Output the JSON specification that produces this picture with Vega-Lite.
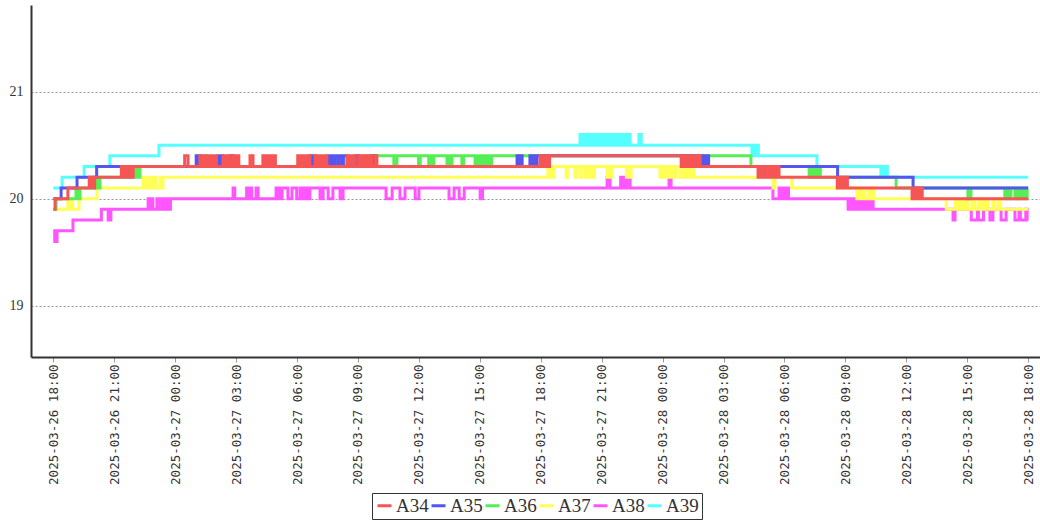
{
  "$schema": "https://vega.github.io/schema/vega-lite/v6.json",
  "width": 1009,
  "height": 352,
  "autosize": {"type": "none"},
  "padding": {"left": 31, "top": 5, "right": 0, "bottom": 165},
  "background": "white",
  "config": {"view": {"stroke": null}},
  "data": {
    "values": [
      {"s": "A39", "t": "2025-03-26T18:00", "v": 20.1},
      {"s": "A39", "t": "2025-03-26T18:26", "v": 20.2},
      {"s": "A39", "t": "2025-03-26T19:31", "v": 20.3},
      {"s": "A39", "t": "2025-03-26T20:47", "v": 20.4},
      {"s": "A39", "t": "2025-03-26T23:12", "v": 20.5},
      {"s": "A39", "t": "2025-03-27T19:56", "v": 20.6},
      {"s": "A39", "t": "2025-03-27T20:03", "v": 20.5},
      {"s": "A39", "t": "2025-03-27T20:08", "v": 20.6},
      {"s": "A39", "t": "2025-03-27T20:15", "v": 20.5},
      {"s": "A39", "t": "2025-03-27T20:20", "v": 20.6},
      {"s": "A39", "t": "2025-03-27T20:27", "v": 20.5},
      {"s": "A39", "t": "2025-03-27T20:31", "v": 20.6},
      {"s": "A39", "t": "2025-03-27T20:38", "v": 20.5},
      {"s": "A39", "t": "2025-03-27T20:43", "v": 20.6},
      {"s": "A39", "t": "2025-03-27T20:50", "v": 20.5},
      {"s": "A39", "t": "2025-03-27T20:54", "v": 20.6},
      {"s": "A39", "t": "2025-03-27T21:01", "v": 20.5},
      {"s": "A39", "t": "2025-03-27T21:05", "v": 20.6},
      {"s": "A39", "t": "2025-03-27T21:12", "v": 20.5},
      {"s": "A39", "t": "2025-03-27T21:16", "v": 20.6},
      {"s": "A39", "t": "2025-03-27T21:24", "v": 20.5},
      {"s": "A39", "t": "2025-03-27T21:28", "v": 20.6},
      {"s": "A39", "t": "2025-03-27T21:35", "v": 20.5},
      {"s": "A39", "t": "2025-03-27T21:40", "v": 20.6},
      {"s": "A39", "t": "2025-03-27T21:48", "v": 20.5},
      {"s": "A39", "t": "2025-03-27T21:52", "v": 20.6},
      {"s": "A39", "t": "2025-03-27T22:00", "v": 20.5},
      {"s": "A39", "t": "2025-03-27T22:06", "v": 20.6},
      {"s": "A39", "t": "2025-03-27T22:14", "v": 20.5},
      {"s": "A39", "t": "2025-03-27T22:18", "v": 20.6},
      {"s": "A39", "t": "2025-03-27T22:24", "v": 20.5},
      {"s": "A39", "t": "2025-03-27T22:50", "v": 20.6},
      {"s": "A39", "t": "2025-03-27T22:57", "v": 20.5},
      {"s": "A39", "t": "2025-03-28T04:24", "v": 20.4},
      {"s": "A39", "t": "2025-03-28T04:30", "v": 20.5},
      {"s": "A39", "t": "2025-03-28T04:34", "v": 20.4},
      {"s": "A39", "t": "2025-03-28T04:39", "v": 20.5},
      {"s": "A39", "t": "2025-03-28T04:43", "v": 20.4},
      {"s": "A39", "t": "2025-03-28T07:36", "v": 20.3},
      {"s": "A39", "t": "2025-03-28T10:45", "v": 20.2},
      {"s": "A39", "t": "2025-03-28T10:51", "v": 20.3},
      {"s": "A39", "t": "2025-03-28T10:55", "v": 20.2},
      {"s": "A39", "t": "2025-03-28T11:00", "v": 20.3},
      {"s": "A39", "t": "2025-03-28T11:04", "v": 20.2},
      {"s": "A39", "t": "2025-03-28T18:00", "v": 20.2},

      {"s": "A38", "t": "2025-03-26T18:00", "v": 19.6},
      {"s": "A38", "t": "2025-03-26T18:04", "v": 19.7},
      {"s": "A38", "t": "2025-03-26T18:07", "v": 19.6},
      {"s": "A38", "t": "2025-03-26T18:11", "v": 19.7},
      {"s": "A38", "t": "2025-03-26T18:58", "v": 19.8},
      {"s": "A38", "t": "2025-03-26T20:22", "v": 19.9},
      {"s": "A38", "t": "2025-03-26T20:42", "v": 19.8},
      {"s": "A38", "t": "2025-03-26T20:50", "v": 19.9},
      {"s": "A38", "t": "2025-03-26T22:40", "v": 20.0},
      {"s": "A38", "t": "2025-03-26T22:44", "v": 19.9},
      {"s": "A38", "t": "2025-03-26T22:49", "v": 20.0},
      {"s": "A38", "t": "2025-03-26T22:54", "v": 19.9},
      {"s": "A38", "t": "2025-03-26T23:06", "v": 20.0},
      {"s": "A38", "t": "2025-03-26T23:15", "v": 19.9},
      {"s": "A38", "t": "2025-03-26T23:24", "v": 20.0},
      {"s": "A38", "t": "2025-03-26T23:30", "v": 19.9},
      {"s": "A38", "t": "2025-03-26T23:36", "v": 20.0},
      {"s": "A38", "t": "2025-03-26T23:40", "v": 19.9},
      {"s": "A38", "t": "2025-03-26T23:46", "v": 20.0},
      {"s": "A38", "t": "2025-03-27T02:51", "v": 20.1},
      {"s": "A38", "t": "2025-03-27T02:56", "v": 20.0},
      {"s": "A38", "t": "2025-03-27T03:31", "v": 20.1},
      {"s": "A38", "t": "2025-03-27T03:36", "v": 20.0},
      {"s": "A38", "t": "2025-03-27T03:41", "v": 20.1},
      {"s": "A38", "t": "2025-03-27T03:46", "v": 20.0},
      {"s": "A38", "t": "2025-03-27T03:59", "v": 20.1},
      {"s": "A38", "t": "2025-03-27T04:05", "v": 20.0},
      {"s": "A38", "t": "2025-03-27T04:58", "v": 20.1},
      {"s": "A38", "t": "2025-03-27T05:02", "v": 20.0},
      {"s": "A38", "t": "2025-03-27T05:07", "v": 20.1},
      {"s": "A38", "t": "2025-03-27T05:11", "v": 20.0},
      {"s": "A38", "t": "2025-03-27T05:16", "v": 20.1},
      {"s": "A38", "t": "2025-03-27T05:33", "v": 20.0},
      {"s": "A38", "t": "2025-03-27T05:45", "v": 20.1},
      {"s": "A38", "t": "2025-03-27T05:59", "v": 20.0},
      {"s": "A38", "t": "2025-03-27T06:09", "v": 20.1},
      {"s": "A38", "t": "2025-03-27T06:18", "v": 20.0},
      {"s": "A38", "t": "2025-03-27T06:24", "v": 20.1},
      {"s": "A38", "t": "2025-03-27T06:30", "v": 20.0},
      {"s": "A38", "t": "2025-03-27T06:38", "v": 20.1},
      {"s": "A38", "t": "2025-03-27T07:08", "v": 20.0},
      {"s": "A38", "t": "2025-03-27T07:17", "v": 20.1},
      {"s": "A38", "t": "2025-03-27T07:32", "v": 20.0},
      {"s": "A38", "t": "2025-03-27T07:46", "v": 20.1},
      {"s": "A38", "t": "2025-03-27T08:07", "v": 20.0},
      {"s": "A38", "t": "2025-03-27T08:16", "v": 20.1},
      {"s": "A38", "t": "2025-03-27T10:23", "v": 20.0},
      {"s": "A38", "t": "2025-03-27T10:41", "v": 20.1},
      {"s": "A38", "t": "2025-03-27T11:04", "v": 20.0},
      {"s": "A38", "t": "2025-03-27T11:19", "v": 20.1},
      {"s": "A38", "t": "2025-03-27T11:49", "v": 20.0},
      {"s": "A38", "t": "2025-03-27T12:00", "v": 20.1},
      {"s": "A38", "t": "2025-03-27T13:29", "v": 20.0},
      {"s": "A38", "t": "2025-03-27T13:44", "v": 20.1},
      {"s": "A38", "t": "2025-03-27T13:59", "v": 20.0},
      {"s": "A38", "t": "2025-03-27T14:14", "v": 20.1},
      {"s": "A38", "t": "2025-03-27T15:01", "v": 20.0},
      {"s": "A38", "t": "2025-03-27T15:08", "v": 20.1},
      {"s": "A38", "t": "2025-03-27T21:16", "v": 20.2},
      {"s": "A38", "t": "2025-03-27T21:25", "v": 20.1},
      {"s": "A38", "t": "2025-03-27T21:56", "v": 20.2},
      {"s": "A38", "t": "2025-03-27T22:01", "v": 20.1},
      {"s": "A38", "t": "2025-03-27T22:05", "v": 20.2},
      {"s": "A38", "t": "2025-03-27T22:11", "v": 20.1},
      {"s": "A38", "t": "2025-03-27T22:15", "v": 20.2},
      {"s": "A38", "t": "2025-03-27T22:24", "v": 20.1},
      {"s": "A38", "t": "2025-03-28T00:19", "v": 20.2},
      {"s": "A38", "t": "2025-03-28T00:25", "v": 20.1},
      {"s": "A38", "t": "2025-03-28T05:26", "v": 20.0},
      {"s": "A38", "t": "2025-03-28T05:44", "v": 20.1},
      {"s": "A38", "t": "2025-03-28T05:50", "v": 20.0},
      {"s": "A38", "t": "2025-03-28T05:56", "v": 20.1},
      {"s": "A38", "t": "2025-03-28T06:02", "v": 20.0},
      {"s": "A38", "t": "2025-03-28T06:08", "v": 20.1},
      {"s": "A38", "t": "2025-03-28T06:12", "v": 20.0},
      {"s": "A38", "t": "2025-03-28T09:08", "v": 19.9},
      {"s": "A38", "t": "2025-03-28T09:14", "v": 20.0},
      {"s": "A38", "t": "2025-03-28T09:20", "v": 19.9},
      {"s": "A38", "t": "2025-03-28T09:26", "v": 20.0},
      {"s": "A38", "t": "2025-03-28T09:34", "v": 19.9},
      {"s": "A38", "t": "2025-03-28T09:40", "v": 20.0},
      {"s": "A38", "t": "2025-03-28T09:46", "v": 19.9},
      {"s": "A38", "t": "2025-03-28T09:52", "v": 20.0},
      {"s": "A38", "t": "2025-03-28T09:58", "v": 19.9},
      {"s": "A38", "t": "2025-03-28T10:04", "v": 20.0},
      {"s": "A38", "t": "2025-03-28T10:10", "v": 19.9},
      {"s": "A38", "t": "2025-03-28T10:16", "v": 20.0},
      {"s": "A38", "t": "2025-03-28T10:22", "v": 19.9},
      {"s": "A38", "t": "2025-03-28T14:18", "v": 19.8},
      {"s": "A38", "t": "2025-03-28T14:24", "v": 19.9},
      {"s": "A38", "t": "2025-03-28T15:12", "v": 19.8},
      {"s": "A38", "t": "2025-03-28T15:30", "v": 19.9},
      {"s": "A38", "t": "2025-03-28T15:33", "v": 19.8},
      {"s": "A38", "t": "2025-03-28T15:48", "v": 19.9},
      {"s": "A38", "t": "2025-03-28T16:07", "v": 19.8},
      {"s": "A38", "t": "2025-03-28T16:16", "v": 19.9},
      {"s": "A38", "t": "2025-03-28T16:40", "v": 19.8},
      {"s": "A38", "t": "2025-03-28T16:55", "v": 19.9},
      {"s": "A38", "t": "2025-03-28T17:21", "v": 19.8},
      {"s": "A38", "t": "2025-03-28T17:33", "v": 19.9},
      {"s": "A38", "t": "2025-03-28T17:37", "v": 19.8},
      {"s": "A38", "t": "2025-03-28T17:53", "v": 19.9},
      {"s": "A38", "t": "2025-03-28T17:57", "v": 19.8},
      {"s": "A38", "t": "2025-03-28T18:00", "v": 19.8},

      {"s": "A37", "t": "2025-03-26T18:00", "v": 19.9},
      {"s": "A37", "t": "2025-03-26T18:43", "v": 20.0},
      {"s": "A37", "t": "2025-03-26T18:49", "v": 19.9},
      {"s": "A37", "t": "2025-03-26T18:52", "v": 20.0},
      {"s": "A37", "t": "2025-03-26T18:57", "v": 19.9},
      {"s": "A37", "t": "2025-03-26T19:16", "v": 20.0},
      {"s": "A37", "t": "2025-03-26T20:09", "v": 20.1},
      {"s": "A37", "t": "2025-03-26T22:25", "v": 20.2},
      {"s": "A37", "t": "2025-03-26T22:28", "v": 20.1},
      {"s": "A37", "t": "2025-03-26T22:31", "v": 20.2},
      {"s": "A37", "t": "2025-03-26T22:34", "v": 20.1},
      {"s": "A37", "t": "2025-03-26T22:37", "v": 20.2},
      {"s": "A37", "t": "2025-03-26T22:40", "v": 20.1},
      {"s": "A37", "t": "2025-03-26T22:43", "v": 20.2},
      {"s": "A37", "t": "2025-03-26T22:46", "v": 20.1},
      {"s": "A37", "t": "2025-03-26T22:49", "v": 20.2},
      {"s": "A37", "t": "2025-03-26T22:55", "v": 20.1},
      {"s": "A37", "t": "2025-03-26T22:59", "v": 20.2},
      {"s": "A37", "t": "2025-03-26T23:04", "v": 20.1},
      {"s": "A37", "t": "2025-03-26T23:15", "v": 20.2},
      {"s": "A37", "t": "2025-03-26T23:20", "v": 20.1},
      {"s": "A37", "t": "2025-03-26T23:24", "v": 20.2},
      {"s": "A37", "t": "2025-03-27T18:21", "v": 20.3},
      {"s": "A37", "t": "2025-03-27T18:26", "v": 20.2},
      {"s": "A37", "t": "2025-03-27T18:30", "v": 20.3},
      {"s": "A37", "t": "2025-03-27T18:35", "v": 20.2},
      {"s": "A37", "t": "2025-03-27T18:39", "v": 20.3},
      {"s": "A37", "t": "2025-03-27T19:15", "v": 20.2},
      {"s": "A37", "t": "2025-03-27T19:19", "v": 20.3},
      {"s": "A37", "t": "2025-03-27T19:41", "v": 20.2},
      {"s": "A37", "t": "2025-03-27T19:46", "v": 20.3},
      {"s": "A37", "t": "2025-03-27T19:56", "v": 20.2},
      {"s": "A37", "t": "2025-03-27T20:00", "v": 20.3},
      {"s": "A37", "t": "2025-03-27T20:10", "v": 20.2},
      {"s": "A37", "t": "2025-03-27T20:15", "v": 20.3},
      {"s": "A37", "t": "2025-03-27T20:19", "v": 20.2},
      {"s": "A37", "t": "2025-03-27T20:24", "v": 20.3},
      {"s": "A37", "t": "2025-03-27T20:34", "v": 20.2},
      {"s": "A37", "t": "2025-03-27T20:39", "v": 20.3},
      {"s": "A37", "t": "2025-03-27T21:16", "v": 20.2},
      {"s": "A37", "t": "2025-03-27T21:22", "v": 20.3},
      {"s": "A37", "t": "2025-03-27T21:25", "v": 20.2},
      {"s": "A37", "t": "2025-03-27T21:29", "v": 20.3},
      {"s": "A37", "t": "2025-03-27T22:13", "v": 20.2},
      {"s": "A37", "t": "2025-03-27T22:19", "v": 20.3},
      {"s": "A37", "t": "2025-03-27T22:22", "v": 20.2},
      {"s": "A37", "t": "2025-03-27T22:27", "v": 20.3},
      {"s": "A37", "t": "2025-03-27T23:52", "v": 20.2},
      {"s": "A37", "t": "2025-03-27T23:58", "v": 20.3},
      {"s": "A37", "t": "2025-03-28T00:04", "v": 20.2},
      {"s": "A37", "t": "2025-03-28T00:10", "v": 20.3},
      {"s": "A37", "t": "2025-03-28T00:19", "v": 20.2},
      {"s": "A37", "t": "2025-03-28T00:24", "v": 20.3},
      {"s": "A37", "t": "2025-03-28T00:33", "v": 20.2},
      {"s": "A37", "t": "2025-03-28T00:39", "v": 20.3},
      {"s": "A37", "t": "2025-03-28T00:51", "v": 20.2},
      {"s": "A37", "t": "2025-03-28T00:57", "v": 20.3},
      {"s": "A37", "t": "2025-03-28T01:03", "v": 20.2},
      {"s": "A37", "t": "2025-03-28T01:09", "v": 20.3},
      {"s": "A37", "t": "2025-03-28T01:18", "v": 20.2},
      {"s": "A37", "t": "2025-03-28T01:24", "v": 20.3},
      {"s": "A37", "t": "2025-03-28T01:33", "v": 20.2},
      {"s": "A37", "t": "2025-03-28T05:26", "v": 20.1},
      {"s": "A37", "t": "2025-03-28T05:32", "v": 20.2},
      {"s": "A37", "t": "2025-03-28T06:22", "v": 20.1},
      {"s": "A37", "t": "2025-03-28T09:34", "v": 20.0},
      {"s": "A37", "t": "2025-03-28T09:40", "v": 20.1},
      {"s": "A37", "t": "2025-03-28T09:46", "v": 20.0},
      {"s": "A37", "t": "2025-03-28T09:52", "v": 20.1},
      {"s": "A37", "t": "2025-03-28T09:56", "v": 20.0},
      {"s": "A37", "t": "2025-03-28T10:07", "v": 20.1},
      {"s": "A37", "t": "2025-03-28T10:12", "v": 20.0},
      {"s": "A37", "t": "2025-03-28T10:18", "v": 20.1},
      {"s": "A37", "t": "2025-03-28T10:24", "v": 20.0},
      {"s": "A37", "t": "2025-03-28T13:58", "v": 19.9},
      {"s": "A37", "t": "2025-03-28T14:24", "v": 20.0},
      {"s": "A37", "t": "2025-03-28T14:30", "v": 19.9},
      {"s": "A37", "t": "2025-03-28T14:38", "v": 20.0},
      {"s": "A37", "t": "2025-03-28T14:47", "v": 19.9},
      {"s": "A37", "t": "2025-03-28T14:56", "v": 20.0},
      {"s": "A37", "t": "2025-03-28T15:02", "v": 19.9},
      {"s": "A37", "t": "2025-03-28T15:14", "v": 20.0},
      {"s": "A37", "t": "2025-03-28T15:23", "v": 19.9},
      {"s": "A37", "t": "2025-03-28T15:34", "v": 20.0},
      {"s": "A37", "t": "2025-03-28T15:43", "v": 19.9},
      {"s": "A37", "t": "2025-03-28T15:52", "v": 20.0},
      {"s": "A37", "t": "2025-03-28T16:01", "v": 19.9},
      {"s": "A37", "t": "2025-03-28T16:16", "v": 20.0},
      {"s": "A37", "t": "2025-03-28T16:22", "v": 19.9},
      {"s": "A37", "t": "2025-03-28T16:33", "v": 20.0},
      {"s": "A37", "t": "2025-03-28T16:39", "v": 19.9},
      {"s": "A37", "t": "2025-03-28T18:00", "v": 19.9},

      {"s": "A36", "t": "2025-03-26T18:00", "v": 19.9},
      {"s": "A36", "t": "2025-03-26T18:08", "v": 20.0},
      {"s": "A36", "t": "2025-03-26T19:07", "v": 20.1},
      {"s": "A36", "t": "2025-03-26T19:13", "v": 20.0},
      {"s": "A36", "t": "2025-03-26T19:19", "v": 20.1},
      {"s": "A36", "t": "2025-03-26T20:03", "v": 20.2},
      {"s": "A36", "t": "2025-03-26T20:07", "v": 20.1},
      {"s": "A36", "t": "2025-03-26T20:11", "v": 20.2},
      {"s": "A36", "t": "2025-03-26T20:15", "v": 20.1},
      {"s": "A36", "t": "2025-03-26T20:18", "v": 20.2},
      {"s": "A36", "t": "2025-03-26T21:56", "v": 20.3},
      {"s": "A36", "t": "2025-03-26T22:01", "v": 20.2},
      {"s": "A36", "t": "2025-03-26T22:06", "v": 20.3},
      {"s": "A36", "t": "2025-03-26T22:11", "v": 20.2},
      {"s": "A36", "t": "2025-03-26T22:16", "v": 20.3},
      {"s": "A36", "t": "2025-03-27T01:17", "v": 20.4},
      {"s": "A36", "t": "2025-03-27T01:21", "v": 20.3},
      {"s": "A36", "t": "2025-03-27T01:26", "v": 20.4},
      {"s": "A36", "t": "2025-03-27T01:34", "v": 20.3},
      {"s": "A36", "t": "2025-03-27T09:15", "v": 20.4},
      {"s": "A36", "t": "2025-03-27T09:21", "v": 20.3},
      {"s": "A36", "t": "2025-03-27T09:24", "v": 20.4},
      {"s": "A36", "t": "2025-03-27T10:46", "v": 20.3},
      {"s": "A36", "t": "2025-03-27T10:55", "v": 20.4},
      {"s": "A36", "t": "2025-03-27T11:59", "v": 20.3},
      {"s": "A36", "t": "2025-03-27T12:04", "v": 20.4},
      {"s": "A36", "t": "2025-03-27T12:29", "v": 20.3},
      {"s": "A36", "t": "2025-03-27T12:33", "v": 20.4},
      {"s": "A36", "t": "2025-03-27T12:37", "v": 20.3},
      {"s": "A36", "t": "2025-03-27T12:44", "v": 20.4},
      {"s": "A36", "t": "2025-03-27T13:23", "v": 20.3},
      {"s": "A36", "t": "2025-03-27T13:27", "v": 20.4},
      {"s": "A36", "t": "2025-03-27T13:31", "v": 20.3},
      {"s": "A36", "t": "2025-03-27T13:38", "v": 20.4},
      {"s": "A36", "t": "2025-03-27T14:07", "v": 20.3},
      {"s": "A36", "t": "2025-03-27T14:12", "v": 20.4},
      {"s": "A36", "t": "2025-03-27T14:46", "v": 20.3},
      {"s": "A36", "t": "2025-03-27T14:50", "v": 20.4},
      {"s": "A36", "t": "2025-03-27T14:54", "v": 20.3},
      {"s": "A36", "t": "2025-03-27T14:58", "v": 20.4},
      {"s": "A36", "t": "2025-03-27T15:02", "v": 20.3},
      {"s": "A36", "t": "2025-03-27T15:07", "v": 20.4},
      {"s": "A36", "t": "2025-03-27T15:11", "v": 20.3},
      {"s": "A36", "t": "2025-03-27T15:16", "v": 20.4},
      {"s": "A36", "t": "2025-03-27T15:20", "v": 20.3},
      {"s": "A36", "t": "2025-03-27T15:24", "v": 20.4},
      {"s": "A36", "t": "2025-03-27T15:28", "v": 20.3},
      {"s": "A36", "t": "2025-03-27T15:35", "v": 20.4},
      {"s": "A36", "t": "2025-03-28T04:21", "v": 20.3},
      {"s": "A36", "t": "2025-03-28T07:13", "v": 20.2},
      {"s": "A36", "t": "2025-03-28T07:17", "v": 20.3},
      {"s": "A36", "t": "2025-03-28T07:21", "v": 20.2},
      {"s": "A36", "t": "2025-03-28T07:26", "v": 20.3},
      {"s": "A36", "t": "2025-03-28T07:30", "v": 20.2},
      {"s": "A36", "t": "2025-03-28T07:35", "v": 20.3},
      {"s": "A36", "t": "2025-03-28T07:40", "v": 20.2},
      {"s": "A36", "t": "2025-03-28T07:43", "v": 20.3},
      {"s": "A36", "t": "2025-03-28T07:46", "v": 20.2},
      {"s": "A36", "t": "2025-03-28T11:30", "v": 20.1},
      {"s": "A36", "t": "2025-03-28T15:02", "v": 20.0},
      {"s": "A36", "t": "2025-03-28T15:11", "v": 20.1},
      {"s": "A36", "t": "2025-03-28T16:51", "v": 20.0},
      {"s": "A36", "t": "2025-03-28T16:55", "v": 20.1},
      {"s": "A36", "t": "2025-03-28T16:59", "v": 20.0},
      {"s": "A36", "t": "2025-03-28T17:03", "v": 20.1},
      {"s": "A36", "t": "2025-03-28T17:06", "v": 20.0},
      {"s": "A36", "t": "2025-03-28T17:09", "v": 20.1},
      {"s": "A36", "t": "2025-03-28T17:21", "v": 20.0},
      {"s": "A36", "t": "2025-03-28T17:25", "v": 20.1},
      {"s": "A36", "t": "2025-03-28T17:29", "v": 20.0},
      {"s": "A36", "t": "2025-03-28T17:36", "v": 20.1},
      {"s": "A36", "t": "2025-03-28T17:39", "v": 20.0},
      {"s": "A36", "t": "2025-03-28T17:43", "v": 20.1},
      {"s": "A36", "t": "2025-03-28T17:47", "v": 20.0},
      {"s": "A36", "t": "2025-03-28T17:51", "v": 20.1},
      {"s": "A36", "t": "2025-03-28T17:54", "v": 20.0},
      {"s": "A36", "t": "2025-03-28T17:57", "v": 20.1},
      {"s": "A36", "t": "2025-03-28T18:00", "v": 20.1},

      {"s": "A35", "t": "2025-03-26T18:00", "v": 20.0},
      {"s": "A35", "t": "2025-03-26T18:23", "v": 20.1},
      {"s": "A35", "t": "2025-03-26T19:10", "v": 20.2},
      {"s": "A35", "t": "2025-03-26T20:08", "v": 20.3},
      {"s": "A35", "t": "2025-03-27T01:02", "v": 20.4},
      {"s": "A35", "t": "2025-03-27T01:05", "v": 20.3},
      {"s": "A35", "t": "2025-03-27T01:08", "v": 20.4},
      {"s": "A35", "t": "2025-03-27T01:13", "v": 20.3},
      {"s": "A35", "t": "2025-03-27T02:07", "v": 20.4},
      {"s": "A35", "t": "2025-03-27T02:11", "v": 20.3},
      {"s": "A35", "t": "2025-03-27T02:15", "v": 20.4},
      {"s": "A35", "t": "2025-03-27T02:21", "v": 20.3},
      {"s": "A35", "t": "2025-03-27T02:42", "v": 20.4},
      {"s": "A35", "t": "2025-03-27T02:51", "v": 20.3},
      {"s": "A35", "t": "2025-03-27T06:38", "v": 20.4},
      {"s": "A35", "t": "2025-03-27T06:42", "v": 20.3},
      {"s": "A35", "t": "2025-03-27T06:47", "v": 20.4},
      {"s": "A35", "t": "2025-03-27T06:53", "v": 20.3},
      {"s": "A35", "t": "2025-03-27T07:32", "v": 20.4},
      {"s": "A35", "t": "2025-03-27T07:38", "v": 20.3},
      {"s": "A35", "t": "2025-03-27T07:42", "v": 20.4},
      {"s": "A35", "t": "2025-03-27T07:50", "v": 20.3},
      {"s": "A35", "t": "2025-03-27T07:53", "v": 20.4},
      {"s": "A35", "t": "2025-03-27T08:02", "v": 20.3},
      {"s": "A35", "t": "2025-03-27T08:05", "v": 20.4},
      {"s": "A35", "t": "2025-03-27T08:14", "v": 20.3},
      {"s": "A35", "t": "2025-03-27T08:17", "v": 20.4},
      {"s": "A35", "t": "2025-03-27T08:28", "v": 20.3},
      {"s": "A35", "t": "2025-03-27T08:52", "v": 20.4},
      {"s": "A35", "t": "2025-03-27T08:56", "v": 20.3},
      {"s": "A35", "t": "2025-03-27T08:59", "v": 20.4},
      {"s": "A35", "t": "2025-03-27T09:02", "v": 20.3},
      {"s": "A35", "t": "2025-03-27T09:40", "v": 20.4},
      {"s": "A35", "t": "2025-03-27T09:44", "v": 20.3},
      {"s": "A35", "t": "2025-03-27T09:47", "v": 20.4},
      {"s": "A35", "t": "2025-03-27T09:53", "v": 20.3},
      {"s": "A35", "t": "2025-03-27T16:50", "v": 20.4},
      {"s": "A35", "t": "2025-03-27T16:55", "v": 20.3},
      {"s": "A35", "t": "2025-03-27T16:59", "v": 20.4},
      {"s": "A35", "t": "2025-03-27T17:05", "v": 20.3},
      {"s": "A35", "t": "2025-03-27T17:28", "v": 20.4},
      {"s": "A35", "t": "2025-03-27T17:33", "v": 20.3},
      {"s": "A35", "t": "2025-03-27T17:37", "v": 20.4},
      {"s": "A35", "t": "2025-03-27T17:45", "v": 20.3},
      {"s": "A35", "t": "2025-03-27T17:49", "v": 20.4},
      {"s": "A35", "t": "2025-03-28T01:58", "v": 20.3},
      {"s": "A35", "t": "2025-03-28T02:02", "v": 20.4},
      {"s": "A35", "t": "2025-03-28T02:06", "v": 20.3},
      {"s": "A35", "t": "2025-03-28T02:10", "v": 20.4},
      {"s": "A35", "t": "2025-03-28T02:16", "v": 20.3},
      {"s": "A35", "t": "2025-03-28T08:37", "v": 20.2},
      {"s": "A35", "t": "2025-03-28T12:20", "v": 20.1},
      {"s": "A35", "t": "2025-03-28T18:00", "v": 20.1},

      {"s": "A34", "t": "2025-03-26T18:00", "v": 19.9},
      {"s": "A34", "t": "2025-03-26T18:05", "v": 20.0},
      {"s": "A34", "t": "2025-03-26T18:43", "v": 20.1},
      {"s": "A34", "t": "2025-03-26T19:46", "v": 20.2},
      {"s": "A34", "t": "2025-03-26T19:50", "v": 20.1},
      {"s": "A34", "t": "2025-03-26T19:54", "v": 20.2},
      {"s": "A34", "t": "2025-03-26T19:58", "v": 20.1},
      {"s": "A34", "t": "2025-03-26T20:02", "v": 20.2},
      {"s": "A34", "t": "2025-03-26T21:21", "v": 20.3},
      {"s": "A34", "t": "2025-03-26T21:26", "v": 20.2},
      {"s": "A34", "t": "2025-03-26T21:32", "v": 20.3},
      {"s": "A34", "t": "2025-03-26T21:38", "v": 20.2},
      {"s": "A34", "t": "2025-03-26T21:44", "v": 20.3},
      {"s": "A34", "t": "2025-03-26T21:50", "v": 20.2},
      {"s": "A34", "t": "2025-03-26T21:56", "v": 20.3},
      {"s": "A34", "t": "2025-03-27T00:28", "v": 20.4},
      {"s": "A34", "t": "2025-03-27T00:38", "v": 20.3},
      {"s": "A34", "t": "2025-03-27T01:13", "v": 20.4},
      {"s": "A34", "t": "2025-03-27T01:20", "v": 20.3},
      {"s": "A34", "t": "2025-03-27T01:27", "v": 20.4},
      {"s": "A34", "t": "2025-03-27T01:34", "v": 20.3},
      {"s": "A34", "t": "2025-03-27T01:41", "v": 20.4},
      {"s": "A34", "t": "2025-03-27T01:48", "v": 20.3},
      {"s": "A34", "t": "2025-03-27T01:55", "v": 20.4},
      {"s": "A34", "t": "2025-03-27T02:02", "v": 20.3},
      {"s": "A34", "t": "2025-03-27T02:21", "v": 20.4},
      {"s": "A34", "t": "2025-03-27T02:28", "v": 20.3},
      {"s": "A34", "t": "2025-03-27T02:35", "v": 20.4},
      {"s": "A34", "t": "2025-03-27T02:42", "v": 20.3},
      {"s": "A34", "t": "2025-03-27T02:51", "v": 20.4},
      {"s": "A34", "t": "2025-03-27T02:58", "v": 20.3},
      {"s": "A34", "t": "2025-03-27T03:04", "v": 20.4},
      {"s": "A34", "t": "2025-03-27T03:08", "v": 20.3},
      {"s": "A34", "t": "2025-03-27T03:41", "v": 20.4},
      {"s": "A34", "t": "2025-03-27T03:50", "v": 20.3},
      {"s": "A34", "t": "2025-03-27T04:19", "v": 20.4},
      {"s": "A34", "t": "2025-03-27T04:27", "v": 20.3},
      {"s": "A34", "t": "2025-03-27T04:35", "v": 20.4},
      {"s": "A34", "t": "2025-03-27T04:43", "v": 20.3},
      {"s": "A34", "t": "2025-03-27T04:50", "v": 20.4},
      {"s": "A34", "t": "2025-03-27T04:56", "v": 20.3},
      {"s": "A34", "t": "2025-03-27T06:02", "v": 20.4},
      {"s": "A34", "t": "2025-03-27T06:10", "v": 20.3},
      {"s": "A34", "t": "2025-03-27T06:18", "v": 20.4},
      {"s": "A34", "t": "2025-03-27T06:26", "v": 20.3},
      {"s": "A34", "t": "2025-03-27T06:32", "v": 20.4},
      {"s": "A34", "t": "2025-03-27T06:38", "v": 20.3},
      {"s": "A34", "t": "2025-03-27T06:53", "v": 20.4},
      {"s": "A34", "t": "2025-03-27T07:00", "v": 20.3},
      {"s": "A34", "t": "2025-03-27T07:07", "v": 20.4},
      {"s": "A34", "t": "2025-03-27T07:14", "v": 20.3},
      {"s": "A34", "t": "2025-03-27T07:21", "v": 20.4},
      {"s": "A34", "t": "2025-03-27T07:28", "v": 20.3},
      {"s": "A34", "t": "2025-03-27T08:28", "v": 20.4},
      {"s": "A34", "t": "2025-03-27T08:36", "v": 20.3},
      {"s": "A34", "t": "2025-03-27T08:44", "v": 20.4},
      {"s": "A34", "t": "2025-03-27T08:52", "v": 20.3},
      {"s": "A34", "t": "2025-03-27T09:02", "v": 20.4},
      {"s": "A34", "t": "2025-03-27T09:10", "v": 20.3},
      {"s": "A34", "t": "2025-03-27T09:18", "v": 20.4},
      {"s": "A34", "t": "2025-03-27T09:26", "v": 20.3},
      {"s": "A34", "t": "2025-03-27T09:34", "v": 20.4},
      {"s": "A34", "t": "2025-03-27T09:40", "v": 20.3},
      {"s": "A34", "t": "2025-03-27T09:50", "v": 20.4},
      {"s": "A34", "t": "2025-03-27T09:56", "v": 20.3},
      {"s": "A34", "t": "2025-03-27T17:58", "v": 20.4},
      {"s": "A34", "t": "2025-03-27T18:02", "v": 20.3},
      {"s": "A34", "t": "2025-03-27T18:06", "v": 20.4},
      {"s": "A34", "t": "2025-03-27T18:11", "v": 20.3},
      {"s": "A34", "t": "2025-03-27T18:16", "v": 20.4},
      {"s": "A34", "t": "2025-03-27T18:20", "v": 20.3},
      {"s": "A34", "t": "2025-03-27T18:26", "v": 20.4},
      {"s": "A34", "t": "2025-03-28T00:55", "v": 20.3},
      {"s": "A34", "t": "2025-03-28T01:02", "v": 20.4},
      {"s": "A34", "t": "2025-03-28T01:09", "v": 20.3},
      {"s": "A34", "t": "2025-03-28T01:16", "v": 20.4},
      {"s": "A34", "t": "2025-03-28T01:23", "v": 20.3},
      {"s": "A34", "t": "2025-03-28T01:30", "v": 20.4},
      {"s": "A34", "t": "2025-03-28T01:37", "v": 20.3},
      {"s": "A34", "t": "2025-03-28T01:44", "v": 20.4},
      {"s": "A34", "t": "2025-03-28T01:51", "v": 20.3},
      {"s": "A34", "t": "2025-03-28T04:42", "v": 20.2},
      {"s": "A34", "t": "2025-03-28T04:48", "v": 20.3},
      {"s": "A34", "t": "2025-03-28T04:54", "v": 20.2},
      {"s": "A34", "t": "2025-03-28T05:00", "v": 20.3},
      {"s": "A34", "t": "2025-03-28T05:06", "v": 20.2},
      {"s": "A34", "t": "2025-03-28T05:15", "v": 20.3},
      {"s": "A34", "t": "2025-03-28T05:20", "v": 20.2},
      {"s": "A34", "t": "2025-03-28T05:26", "v": 20.3},
      {"s": "A34", "t": "2025-03-28T05:32", "v": 20.2},
      {"s": "A34", "t": "2025-03-28T05:38", "v": 20.3},
      {"s": "A34", "t": "2025-03-28T05:44", "v": 20.2},
      {"s": "A34", "t": "2025-03-28T08:36", "v": 20.1},
      {"s": "A34", "t": "2025-03-28T08:41", "v": 20.2},
      {"s": "A34", "t": "2025-03-28T08:46", "v": 20.1},
      {"s": "A34", "t": "2025-03-28T08:51", "v": 20.2},
      {"s": "A34", "t": "2025-03-28T08:57", "v": 20.1},
      {"s": "A34", "t": "2025-03-28T09:00", "v": 20.2},
      {"s": "A34", "t": "2025-03-28T09:06", "v": 20.1},
      {"s": "A34", "t": "2025-03-28T12:17", "v": 20.0},
      {"s": "A34", "t": "2025-03-28T12:22", "v": 20.1},
      {"s": "A34", "t": "2025-03-28T12:27", "v": 20.0},
      {"s": "A34", "t": "2025-03-28T12:32", "v": 20.1},
      {"s": "A34", "t": "2025-03-28T12:37", "v": 20.0},
      {"s": "A34", "t": "2025-03-28T12:42", "v": 20.1},
      {"s": "A34", "t": "2025-03-28T12:47", "v": 20.0},
      {"s": "A34", "t": "2025-03-28T18:00", "v": 20.0}
    ]
  },
  "encoding": {
    "x": {
      "field": "t",
      "type": "temporal",
      "title": null,
      "scale": {
        "domain": [
          {"year": 2025, "month": 3, "date": 26, "hours": 16, "minutes": 54},
          {"year": 2025, "month": 3, "date": 28, "hours": 18, "minutes": 35}
        ]
      },
      "axis": {
        "values": [
          {"year": 2025, "month": 3, "date": 26, "hours": 18},
          {"year": 2025, "month": 3, "date": 26, "hours": 21},
          {"year": 2025, "month": 3, "date": 27, "hours": 0},
          {"year": 2025, "month": 3, "date": 27, "hours": 3},
          {"year": 2025, "month": 3, "date": 27, "hours": 6},
          {"year": 2025, "month": 3, "date": 27, "hours": 9},
          {"year": 2025, "month": 3, "date": 27, "hours": 12},
          {"year": 2025, "month": 3, "date": 27, "hours": 15},
          {"year": 2025, "month": 3, "date": 27, "hours": 18},
          {"year": 2025, "month": 3, "date": 27, "hours": 21},
          {"year": 2025, "month": 3, "date": 28, "hours": 0},
          {"year": 2025, "month": 3, "date": 28, "hours": 3},
          {"year": 2025, "month": 3, "date": 28, "hours": 6},
          {"year": 2025, "month": 3, "date": 28, "hours": 9},
          {"year": 2025, "month": 3, "date": 28, "hours": 12},
          {"year": 2025, "month": 3, "date": 28, "hours": 15},
          {"year": 2025, "month": 3, "date": 28, "hours": 18}
        ],
        "format": "%Y-%m-%d %H:%M",
        "labelAngle": 270,
        "labelAlign": "right",
        "labelBaseline": "middle",
        "labelFont": "DejaVu Sans Mono",
        "labelFontSize": 12.5,
        "labelColor": "#333333",
        "labelPadding": 2,
        "labelOverlap": false,
        "labelFlush": false,
        "tickColor": "#999999",
        "tickSize": 5,
        "domainColor": "#333333",
        "domainWidth": 2,
        "grid": false
      }
    },
    "y": {
      "field": "v",
      "type": "quantitative",
      "title": null,
      "scale": {"domain": [18.52, 21.81], "nice": false, "zero": false},
      "axis": {
        "values": [19, 20, 21],
        "grid": true,
        "gridDash": [2, 2],
        "gridColor": "#999999",
        "ticks": false,
        "labelPadding": 8,
        "labelFont": "Liberation Serif",
        "labelFontSize": 14,
        "labelColor": "#333333",
        "domainColor": "#333333",
        "domainWidth": 2
      }
    },
    "color": {
      "field": "s",
      "type": "nominal",
      "scale": {
        "domain": ["A34", "A35", "A36", "A37", "A38", "A39"],
        "range": ["#f55555", "#5555f0", "#55ee55", "#ffff55", "#ff55ff", "#55ffff"]
      },
      "legend": {
        "title": null,
        "orient": "none",
        "legendX": 341,
        "legendY": 488,
        "direction": "horizontal",
        "symbolType": "stroke",
        "symbolSize": 196,
        "symbolStrokeWidth": 3,
        "labelFont": "Liberation Serif",
        "labelFontSize": 19,
        "labelColor": "#333333",
        "labelOffset": 2,
        "columnPadding": -5,
        "padding": 3,
        "strokeColor": "#333333",
        "fillColor": "white"
      }
    }
  },
  "layer": [
    {"transform": [{"filter": "datum.s === 'A39'"}], "mark": {"type": "line", "interpolate": "step-after", "strokeWidth": 3}},
    {"transform": [{"filter": "datum.s === 'A38'"}], "mark": {"type": "line", "interpolate": "step-after", "strokeWidth": 3}},
    {"transform": [{"filter": "datum.s === 'A37'"}], "mark": {"type": "line", "interpolate": "step-after", "strokeWidth": 3}},
    {"transform": [{"filter": "datum.s === 'A36'"}], "mark": {"type": "line", "interpolate": "step-after", "strokeWidth": 3}},
    {"transform": [{"filter": "datum.s === 'A35'"}], "mark": {"type": "line", "interpolate": "step-after", "strokeWidth": 3}},
    {"transform": [{"filter": "datum.s === 'A34'"}], "mark": {"type": "line", "interpolate": "step-after", "strokeWidth": 3}}
  ]
}
